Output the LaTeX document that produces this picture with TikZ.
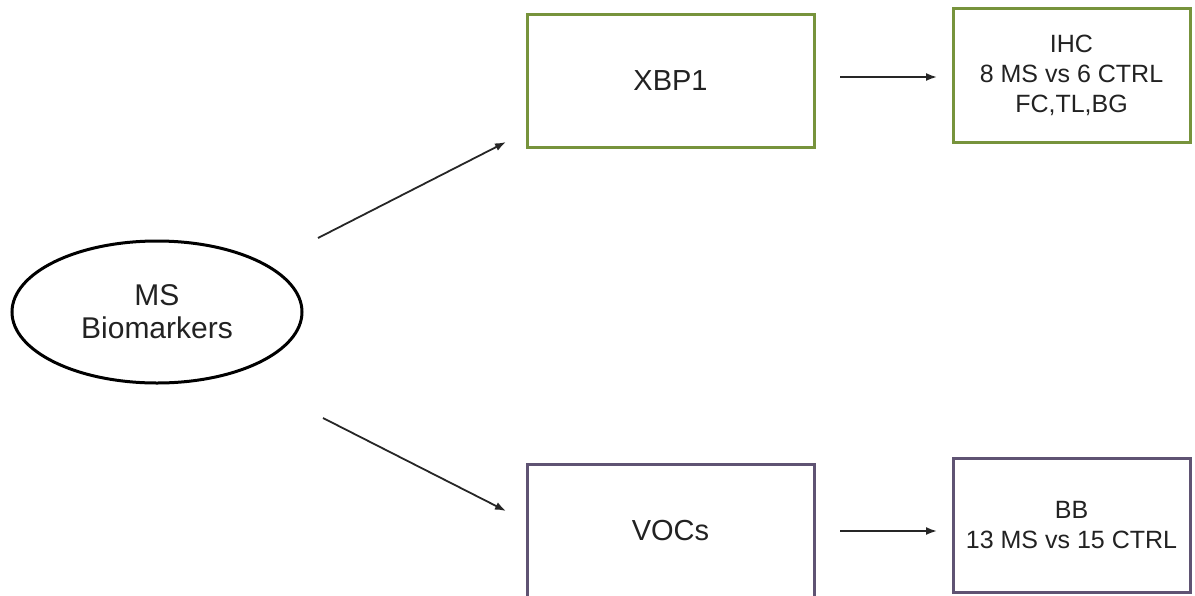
\documentclass[tikz,border=0pt]{standalone}
\usepackage{fontspec}
\setmainfont{Liberation Sans}
\usetikzlibrary{shapes.geometric,arrows.meta}
\definecolor{olivebox}{HTML}{77933C}
\definecolor{purplebox}{HTML}{5F5373}
\definecolor{txt}{HTML}{222222}
\tikzset{
  bigbox/.style={draw, line width=3pt, minimum width=287pt, minimum height=133pt, inner sep=0pt, text=txt, font=\fontsize{29}{34}\selectfont},
  smallbox/.style={draw, line width=3pt, minimum width=237pt, minimum height=134pt, inner sep=0pt, align=center, text=txt, font=\fontsize{25}{30}\selectfont},
  oval/.style={draw, ellipse, line width=3pt, minimum width=290pt, minimum height=142pt, inner sep=0pt, align=center, text=txt, font=\fontsize{30}{33}\selectfont},
  conn/.style={line width=1.8pt, draw=black!85, -{Latex[length=11pt,width=8pt]}}
}
\begin{document}
\begin{tikzpicture}[x=1pt,y=-1pt]
\useasboundingbox (0,0) rectangle (1195,595);
\clip (0,0) rectangle (1195,595);
\node[oval] (ms) at (157,312) {MS\\Biomarkers};
\node[bigbox, draw=olivebox] (xbp) at (670.5,80.5) {XBP1};
\node[smallbox, draw=olivebox] (ihc) at (1071.5,75) {IHC\\8 MS vs 6 CTRL\\FC,TL,BG};
\node[bigbox, draw=purplebox] (voc) at (670.5,530.5) {VOCs};
\node[smallbox, draw=purplebox] (bb) at (1071.5,525) {BB\\13 MS vs 15 CTRL};
\coordinate (a1s) at (318,238);
\coordinate (a1e) at (506,142);
\coordinate (a2s) at (323,418);
\coordinate (a2e) at (506,511);
\coordinate (a3s) at (840,77);
\coordinate (a3e) at (937,77);
\coordinate (a4s) at (840,531);
\coordinate (a4e) at (937,531);
\draw[conn] (a1s) -- (a1e);
\draw[conn] (a2s) -- (a2e);
\draw[conn] (a3s) -- (a3e);
\draw[conn] (a4s) -- (a4e);
\end{tikzpicture}
\end{document}
